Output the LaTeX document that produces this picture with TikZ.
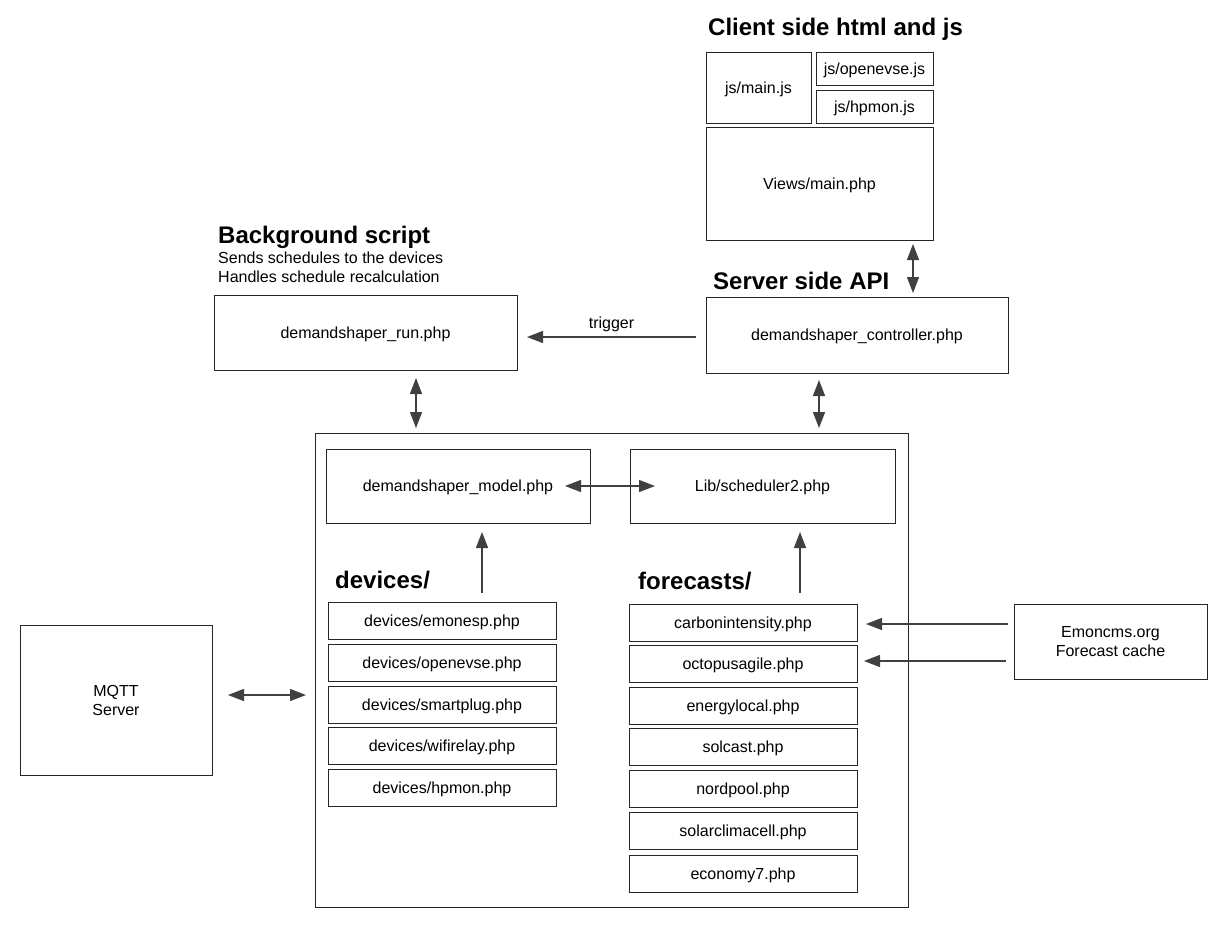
\documentclass[tikz,border=0pt]{standalone}
\usepackage{fontspec}
\setmainfont{Liberation Sans}
\usetikzlibrary{arrows.meta}
\begin{document}
\begin{tikzpicture}[x=1pt,y=-1pt,
  box/.style={draw=black!85, line width=0.9pt, inner sep=0pt, outer sep=0pt, anchor=north west, font=\fontsize{16}{19}\selectfont, align=center},
  one/.style={text height=14.5pt, text depth=3.4pt},
  ttl/.style={anchor=west, font=\fontsize{24}{27}\selectfont\bfseries, inner sep=0pt},
  sub/.style={anchor=west, font=\fontsize{16}{19}\selectfont, inner sep=0pt, align=left},
  con/.style={draw=black!75, line width=1.3pt},
  tip/.style={-{Triangle[length=16pt,width=12pt]}},
  dtip/.style={{Triangle[length=16pt,width=12pt]}-{Triangle[length=16pt,width=12pt]}}
]
\useasboundingbox[fill=white] (0,0) rectangle (1223,930);
% client side
\node[ttl] (tclient) at (708,29) {Client side html and js};
\node[box, one, minimum width=105pt, minimum height=71pt] (mainjs) at (706,52) {js/main.js};
\node[box, one, minimum width=117pt, minimum height=33pt] (openjs) at (816,52) {js/openevse.js};
\node[box, one, minimum width=117pt, minimum height=33pt] (hpjs) at (816,90) {js/hpmon.js};
\node[box, one, minimum width=227pt, minimum height=113pt] (views) at (706,127) {Views/main.php};
% server side
\node[ttl] (tserver) at (713,281) {Server side API};
\node[box, one, minimum width=302pt, minimum height=76pt] (ctrl) at (706,297) {demandshaper\_controller.php};
% background
\node[ttl] (tbg) at (218,237) {Background script};
\node[sub] (sbg) at (218,267.5) {Sends schedules to the devices\\Handles schedule recalculation};
\node[box, one, minimum width=303pt, minimum height=75pt] (run) at (214,295) {demandshaper\_run.php};
% outer
\node[box, minimum width=593pt, minimum height=474pt] (outer) at (315,433) {};
\node[box, one, minimum width=264pt, minimum height=74pt] (model) at (326,449) {demandshaper\_model.php};
\node[box, one, minimum width=265pt, minimum height=74pt] (lib) at (630,449) {Lib/scheduler2.php};
\node[ttl] (tdev) at (335,580) {devices/};
\node[ttl] (tfor) at (638,581) {forecasts/};
% devices
\node[box, one, minimum width=228pt, minimum height=37pt] (d1) at (328,602) {devices/emonesp.php};
\node[box, one, minimum width=228pt, minimum height=37pt] (d2) at (328,644) {devices/openevse.php};
\node[box, one, minimum width=228pt, minimum height=37pt] (d3) at (328,686) {devices/smartplug.php};
\node[box, one, minimum width=228pt, minimum height=37pt] (d4) at (328,727) {devices/wifirelay.php};
\node[box, one, minimum width=228pt, minimum height=37pt] (d5) at (328,769) {devices/hpmon.php};
% forecasts
\node[box, one, minimum width=228pt, minimum height=37pt] (f1) at (629,604) {carbonintensity.php};
\node[box, one, minimum width=228pt, minimum height=37pt] (f2) at (629,645) {octopusagile.php};
\node[box, one, minimum width=228pt, minimum height=37pt] (f3) at (629,687) {energylocal.php};
\node[box, one, minimum width=228pt, minimum height=37pt] (f4) at (629,728) {solcast.php};
\node[box, one, minimum width=228pt, minimum height=37pt] (f5) at (629,770) {nordpool.php};
\node[box, one, minimum width=228pt, minimum height=37pt] (f6) at (629,812) {solarclimacell.php};
\node[box, one, minimum width=228pt, minimum height=37pt] (f7) at (629,855) {economy7.php};
% external
\node[box, minimum width=193pt, minimum height=75pt] (emon) at (1014,604) {Emoncms.org\\Forecast cache};
\node[box, minimum width=192pt, minimum height=150pt] (mqtt) at (20,625) {MQTT\\Server};
% reference coordinates for connector positions
\coordinate (xv) at (913,0);
\coordinate (xr) at (416,0);
\coordinate (xc) at (819,0);
\coordinate (xm) at (482,0);
\coordinate (xl) at (800,0);
\coordinate (yt) at (0,337);
\coordinate (ym) at (0,486);
\coordinate (yq) at (0,695);
\coordinate (ye1) at (0,624);
\coordinate (ye2) at (0,661);
% connectors
\draw[con,dtip,shorten <=4pt,shorten >=4pt] (views.south -| xv) -- (ctrl.north -| xv);
\draw[con,tip,shorten <=10pt,shorten >=10pt] (ctrl.west |- yt) -- node[above=5pt, font=\fontsize{16}{19}\selectfont, inner sep=0pt] (ltrig) {trigger} (run.east |- yt);
\draw[con,dtip,shorten <=8pt,shorten >=5pt] (run.south -| xr) -- (outer.north -| xr);
\draw[con,dtip,shorten <=7pt,shorten >=5pt] (ctrl.south -| xc) -- (outer.north -| xc);
\draw[con,dtip,shorten <=-25pt,shorten >=-25pt] (model.east |- ym) -- (lib.west |- ym);
\draw[con,tip,shorten <=9pt,shorten >=9pt] (d1.north -| xm) -- (model.south -| xm);
\draw[con,tip,shorten <=11pt,shorten >=9pt] (f1.north -| xl) -- (lib.south -| xl);
\draw[con,tip,shorten <=6pt,shorten >=9pt] (emon.west |- ye1) -- (f1.east |- ye1);
\draw[con,tip,shorten <=8pt,shorten >=7pt] (emon.west |- ye2) -- (f2.east |- ye2);
\draw[con,dtip,shorten <=16pt,shorten >=9pt] (mqtt.east |- yq) -- (outer.west |- yq);
\end{tikzpicture}
\end{document}
